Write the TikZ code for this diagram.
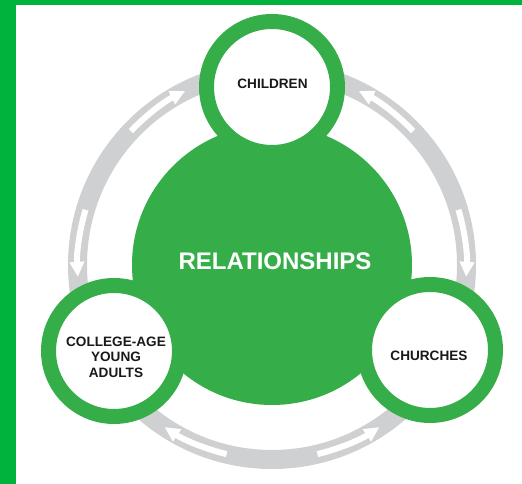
\documentclass[tikz,border=0pt]{standalone}
\usepackage{fontspec}
\setmainfont{Liberation Sans}
\usetikzlibrary{arrows.meta}
\definecolor{frameg}{RGB}{0,179,60}
\definecolor{circg}{RGB}{53,173,72}
\definecolor{ringgray}{RGB}{207,208,210}
\tikzset{
  ringline/.style={draw=ringgray, line width=19pt},
  smallc/.style={circle, draw=circg, line width=15pt, fill=white, minimum size=131pt, inner sep=0pt},
  bigc/.style={circle, fill=circg, minimum size=280pt, inner sep=0pt},
  lbl/.style={font=\bfseries\fontsize{13.6pt}{15.5pt}\selectfont, align=center, text=black!90},
  flow/.style={draw=white, line width=6pt, -{Triangle[width=14pt,length=15pt]}},
}
\begin{document}
\begin{tikzpicture}[x=1pt,y=1pt]
\useasboundingbox (0,0) rectangle (522,484);
\fill[white] (0,0) rectangle (522,484);
\fill[frameg] (0,0) rectangle (16,484);
\fill[frameg] (0,479) rectangle (522,484);
\coordinate (C) at (272,219);
\draw[ringline] (C) circle[radius=194.5];
% arrows in ring
\foreach \m in {150,30,270}{
  \draw[flow] ([shift={(\m-13.5:194.5)}]C) arc[start angle=\m-13.5, end angle=\m-33.5, radius=194.5];
  \draw[flow] ([shift={(\m+13.5:194.5)}]C) arc[start angle=\m+13.5, end angle=\m+33.5, radius=194.5];
}
\node[bigc] (rel) at (C) {};
\node[smallc] (child) at (272,397) {};
\node[smallc] (coll) at (114,133) {};
\node[smallc] (church) at (430,134) {};
\node[font=\bfseries\fontsize{24pt}{28pt}\selectfont, text=white] (reltxt) at (275,222.5) {RELATIONSHIPS};
\node[lbl] (childtxt) at (272.5,400) {CHILDREN};
\node[lbl] (churchtxt) at (429,128) {CHURCHES};
\node[lbl] (colltxt) at (116,127) {COLLEGE-AGE\\YOUNG\\ADULTS};
\end{tikzpicture}
\end{document}
